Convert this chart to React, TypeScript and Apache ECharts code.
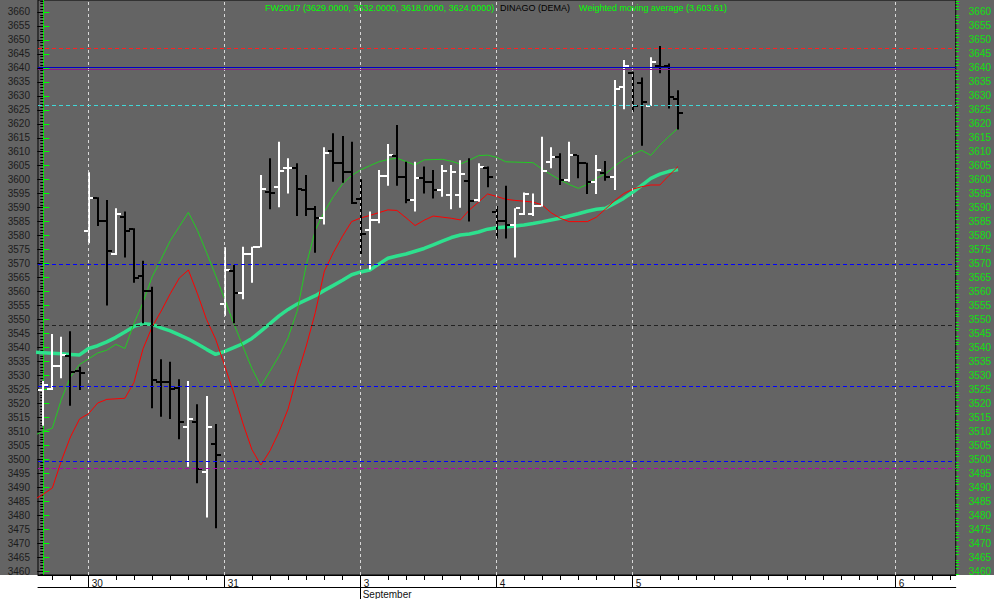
import React, { useEffect, useRef } from "react";
import * as echarts from "echarts";

// ---- OHLC bars (30-minute bars), index 0 = first visible bar ----
const opens = [3524.8, 3525.1, 3533.5, 3537.0, 3531.5, 3581.8, 3593.6, 3585.2, 3573.4, 3586.6, 3582.3, 3565.5, 3560.2, 3527.7, 3527.6, 3525.4, 3511.6, 3513.4, 3495.4, 3505.5,
  3555.4, 3567.4, 3559.6, 3573.4, 3575.8, 3595.7, 3597.5, 3604.1, 3604.3, 3596.3, 3589.4, 3586.2, 3610.4, 3605.9, 3602.9,
  3593.0, 3582.0, 3585.6, 3601.4, 3608.6, 3601.1, 3592.7, 3600.5, 3599.3, 3596.3, 3594.5, 3594.5, 3599.7, 3592.7, 3604.1,
  3588.6, 3585.3, 3583.8, 3587.7, 3587.7, 3590.6, 3606.3, 3608.0, 3600.0, 3608.8, 3605.9, 3599.3, 3602.5, 3601.1, 3633.3,
  3638.3, 3634.5, 3626.4, 3640.8, 3640.8, 3629.0];
const highs = [3528.0, 3544.8, 3543.8, 3545.8, 3533.1, 3602.7, 3593.7, 3592.7, 3589.8, 3588.6, 3582.6, 3571.0, 3561.7, 3535.8, 3534.9, 3528.6, 3528.0, 3519.7, 3522.6, 3512.6,
  3575.8, 3569.5, 3576.0, 3576.0, 3601.7, 3607.7, 3613.6, 3607.7, 3605.9, 3601.7, 3590.6, 3611.6, 3616.6, 3615.6, 3613.6,
  3600.2, 3588.6, 3603.5, 3612.8, 3619.6, 3606.4, 3606.4, 3604.7, 3603.5, 3605.3, 3605.3, 3607.0, 3607.7, 3605.9, 3604.7,
  3590.6, 3597.8, 3589.8, 3595.4, 3595.1, 3615.4, 3611.6, 3609.5, 3613.6, 3608.8, 3606.1, 3608.8, 3606.7, 3635.7, 3642.8,
  3638.6, 3636.6, 3643.8, 3647.8, 3641.6, 3632.0];
const lows = [3512.0, 3524.8, 3529.0, 3519.1, 3524.8, 3577.3, 3583.4, 3555.0, 3573.1, 3572.2, 3563.1, 3548.6, 3518.2, 3515.2, 3514.4, 3507.1, 3497.3, 3491.4, 3479.1, 3475.3,
  3551.3, 3548.6, 3557.2, 3563.1, 3575.8, 3589.4, 3590.1, 3595.1, 3587.0, 3587.0, 3573.9, 3584.0, 3599.3, 3598.9, 3591.3,
  3573.4, 3567.9, 3584.4, 3597.8, 3597.8, 3591.6, 3588.6, 3595.1, 3593.3, 3593.9, 3589.4, 3590.0, 3585.0, 3592.1, 3597.3,
  3579.0, 3579.0, 3572.2, 3587.4, 3587.0, 3590.4, 3604.1, 3598.1, 3599.3, 3600.5, 3594.9, 3594.9, 3599.6, 3596.3, 3625.2,
  3624.3, 3612.1, 3626.4, 3638.1, 3625.5, 3618.0];
const closes = [3526.4, 3533.5, 3537.3, 3531.3, 3530.8, 3593.6, 3585.2, 3574.6, 3587.7, 3581.8, 3564.7, 3560.2, 3528.3, 3527.6, 3525.1, 3513.4, 3514.4, 3496.6, 3511.6, 3501.5,
  3567.7, 3559.6, 3573.4, 3575.8, 3596.6, 3595.4, 3603.1, 3604.3, 3596.6, 3589.4, 3586.2, 3609.7, 3605.9, 3602.9, 3591.6,
  3580.5, 3585.6, 3601.4, 3608.8, 3601.1, 3592.7, 3600.5, 3599.3, 3596.3, 3603.1, 3602.9, 3602.0, 3592.5, 3604.4, 3600.9,
  3585.3, 3583.8, 3589.8, 3594.9, 3590.6, 3603.2, 3608.0, 3600.0, 3608.8, 3605.9, 3599.3, 3603.5, 3601.1, 3632.5, 3640.8,
  3626.4, 3627.7, 3642.2, 3640.3, 3629.7, 3624.0];

// ---- indicator lines, index -1 .. 70 ----
const weightedMA = [3538.3, 3538.1, 3537.9, 3537.7, 3537.5, 3537.3, 3539.6, 3540.6, 3542.0, 3543.6, 3545.5, 3547.5, 3548.5, 3548.2, 3547.0, 3545.9, 3544.5, 3543.0, 3541.2, 3539.3, 3537.5,
  3538.6, 3539.9, 3541.3, 3543.2, 3545.8, 3548.5, 3551.3, 3553.6, 3555.5, 3557.0, 3558.5, 3560.4, 3562.2, 3564.0, 3566.0,
  3567.0, 3567.7, 3569.8, 3571.9, 3572.7, 3573.4, 3574.4, 3575.4, 3576.7, 3578.0, 3579.3, 3580.2, 3580.6, 3581.3, 3582.3,
  3582.8, 3583.1, 3583.4, 3583.8, 3584.3, 3584.9, 3585.6, 3586.2, 3587.0, 3587.8, 3588.7, 3589.4, 3589.8, 3591.5, 3593.3,
  3595.5, 3598.0, 3600.5, 3602.0, 3603.0, 3603.6];
const fastAverage = [3508.5, 3510.0, 3511.1, 3521.5, 3529.4, 3533.9, 3535.9, 3538.0, 3539.0, 3541.1, 3539.6, 3548.6, 3556.1, 3565.2, 3571.6, 3578.2, 3583.2, 3588.3, 3581.9, 3574.0, 3565.8,
  3557.3, 3548.6, 3540.5, 3532.5, 3526.2, 3531.5, 3537.0, 3543.5, 3553.0, 3569.5, 3582.0, 3588.6, 3594.0, 3598.5, 3601.5,
  3603.5, 3605.0, 3606.4, 3607.2, 3607.7, 3606.5, 3605.3, 3607.1, 3607.2, 3607.3, 3606.6, 3605.6, 3607.0, 3608.6, 3608.8,
  3608.0, 3606.4, 3606.3, 3606.2, 3606.1, 3603.8, 3601.8, 3599.9, 3598.3, 3596.9, 3598.3, 3600.5, 3602.1, 3604.8, 3607.2,
  3609.0, 3610.5, 3608.7, 3612.4, 3615.5, 3618.4];
const redAverage = [3485.5, 3487.5, 3489.7, 3499.5, 3508.0, 3514.4, 3516.3, 3520.1, 3521.4, 3521.6, 3521.8, 3527.5, 3539.5, 3547.3, 3553.0, 3559.2, 3564.8, 3567.7, 3559.2, 3550.0, 3543.0,
  3533.5, 3523.7, 3513.0, 3503.5, 3497.9, 3503.0, 3509.8, 3518.0, 3530.0, 3540.5, 3552.5, 3567.3, 3574.0, 3579.8, 3585.0,
  3586.3, 3587.2, 3588.2, 3589.2, 3589.0, 3586.4, 3583.6, 3585.5, 3587.0, 3586.6, 3586.2, 3585.6, 3589.2, 3592.0, 3594.9,
  3594.0, 3593.0, 3592.6, 3592.3, 3592.0, 3591.0, 3588.2, 3586.2, 3585.0, 3585.0, 3585.0, 3586.6, 3589.5, 3592.5, 3595.0,
  3596.6, 3597.5, 3598.1, 3598.1, 3601.5, 3604.7];

// ---- horizontal levels ----
const levelValues = [3647.1, 3640.3, 3639.6, 3626.6, 3569.8, 3548.0, 3526.2, 3499.4, 3496.6];
const levelColors = ["#ff2020", "#0000c8", "#8a1a8a", "#40d8d8", "#0000ff", "#222222", "#0000ff", "#0000ff", "#b000b0"];
const levelDashed = [true, false, false, true, true, true, true, true, true];

// ---- x axis: day starts (bar positions) & labels ----
const dayPositions = [5, 20, 35, 50, 65, 94];
const dayLabels = ["30", "31", "3", "4", "5", "6"];
const hourTicks = [1, 3, 8, 10, 12, 14, 16, 18, 23, 25, 27, 29, 31, 33, 38, 40, 42, 44, 46, 48, 53, 55, 57, 59, 61, 63,
  68, 70, 72, 74, 76, 78, 80, 82, 84, 86, 88, 90, 92, 96, 98, 100];
const monthPosition = [35];
const monthLabel = "September";

// ---- y axis labels ----
const priceLabels = [3460, 3465, 3470, 3475, 3480, 3485, 3490, 3495, 3500, 3505, 3510, 3515, 3520, 3525, 3530, 3535, 3540,
  3545, 3550, 3555, 3560, 3565, 3570, 3575, 3580, 3585, 3590, 3595, 3600, 3605, 3610, 3615, 3620, 3625, 3630, 3635, 3640,
  3645, 3650, 3655, 3660];

// ---- header texts ----
const headerSymbol = "FW20U7 (3629.0000, 3632.0000, 3618.0000, 3624.0000)";
const headerStudy = "DINAGO (DEMA)";
const headerAverage = "Weighted moving average (3,603.61)";

const Y_MIN = 3458.57;
const Y_MAX = 3664.29;
const X_MIN = -0.584;
const X_MAX = 100.63;
const FONT = "Liberation Sans, Arial, sans-serif";

export default function App() {
  const ref = useRef<HTMLDivElement>(null);
  useEffect(() => {
    if (!ref.current) return;
    const chart = echarts.init(ref.current, undefined, { renderer: "svg" });

    const minorPrice: number[] = [];
    for (let v = priceLabels[0] - 1; v <= priceLabels[priceLabels.length - 1] + 4; v++) {
      if (v % 5 !== 0) minorPrice.push(v);
    }

    const barData = opens.map((o, k) => [k, o, highs[k], lows[k], closes[k]]);
    const lineData = (arr: number[]) => arr.map((v, k) => [k - 1, v]);
    const plain = (v: number) => String(Math.round(v));

    const yBase = {
      type: "value",
      min: Y_MIN,
      max: Y_MAX,
      splitLine: { show: false },
      gridIndex: 0,
    };
    const xBase = {
      type: "value",
      min: X_MIN,
      max: X_MAX,
      splitLine: { show: false },
      gridIndex: 0,
    };

    const levelLines = levelValues.map((v, k) => ({
      yAxis: v,
      lineStyle: {
        color: levelColors[k],
        type: levelDashed[k] ? [4, 3] : "solid",
        width: 1,
      },
    }));
    const dayLines = dayPositions.map((p) => ({
      xAxis: p,
      lineStyle: { color: "#d8d8d8", type: [3, 3], width: 1 },
    }));

    const option: any = {
      animation: false,
      backgroundColor: "transparent",
      grid: {
        left: 38,
        right: 38,
        top: 0,
        height: 575,
        show: true,
        backgroundColor: "#646464",
        borderColor: "#000",
        borderWidth: 1,
      },
      xAxis: [
        {
          ...xBase,
          position: "bottom",
          axisLine: { show: true, lineStyle: { color: "#000", width: 1 } },
          axisTick: { show: true, customValues: hourTicks, length: 5, lineStyle: { color: "#000" } },
          axisLabel: { show: false },
        },
        {
          ...xBase,
          position: "bottom",
          axisLine: { show: false },
          axisTick: { show: true, customValues: dayPositions, length: 12, lineStyle: { color: "#000" } },
          axisLabel: {
            show: true,
            customValues: dayPositions,
            formatter: (v: number) => dayLabels[dayPositions.indexOf(Math.round(v))] ?? "",
            align: "left",
            padding: [0, 0, 0, 3],
            margin: 3,
            color: "#111",
            fontSize: 10,
            fontFamily: FONT,
          },
        },
        {
          ...xBase,
          position: "bottom",
          offset: 12,
          axisLine: { show: true, lineStyle: { color: "#000", width: 1 } },
          axisTick: { show: true, customValues: monthPosition, length: 12, lineStyle: { color: "#000" } },
          axisLabel: {
            show: true,
            customValues: monthPosition,
            formatter: () => monthLabel,
            align: "left",
            padding: [0, 0, 0, 2],
            margin: 2,
            color: "#111",
            fontSize: 10,
            fontFamily: FONT,
          },
        },
      ],
      yAxis: [
        {
          ...yBase,
          position: "left",
          axisLine: { show: true, lineStyle: { color: "#000", width: 1 } },
          axisTick: { show: true, customValues: priceLabels, length: 6, lineStyle: { color: "#000" } },
          axisLabel: {
            show: true,
            customValues: priceLabels,
            formatter: plain,
            margin: 8,
            color: "#1c1c1c",
            fontSize: 10,
            fontFamily: FONT,
          },
        },
        {
          ...yBase,
          position: "left",
          axisLine: { show: false },
          axisTick: { show: true, customValues: minorPrice, length: 3, lineStyle: { color: "#000" } },
          axisLabel: { show: false },
        },
        {
          ...yBase,
          position: "right",
          axisLine: { show: true, lineStyle: { color: "#00ff00", width: 1 } },
          axisTick: { show: true, customValues: priceLabels, length: 6, lineStyle: { color: "#00ff00" } },
          axisLabel: {
            show: true,
            customValues: priceLabels,
            formatter: plain,
            margin: 13,
            color: "#10e010",
            fontSize: 10,
            fontFamily: FONT,
          },
        },
        {
          ...yBase,
          position: "right",
          axisLine: { show: false },
          axisTick: { show: true, customValues: minorPrice, length: 3, lineStyle: { color: "#00ff00" } },
          axisLabel: { show: false },
        },
      ],
      graphic: [
        {
          type: "text",
          x: 265,
          y: 8,
          style: {
            text: headerSymbol,
            fill: "#00ff00",
            font: `9px ${FONT}`,
            verticalAlign: "middle",
          },
        },
        {
          type: "text",
          x: 500,
          y: 8,
          style: {
            text: headerStudy,
            fill: "#000000",
            font: `9px ${FONT}`,
            verticalAlign: "middle",
          },
        },
        {
          type: "text",
          x: 727,
          y: 8,
          style: {
            text: headerAverage,
            fill: "#00ff00",
            font: `9px ${FONT}`,
            align: "right",
            verticalAlign: "middle",
          },
        },
      ],
      series: [
        {
          type: "line",
          name: "grid",
          data: [],
          silent: true,
          markLine: {
            silent: true,
            symbol: "none",
            label: { show: false },
            data: [...dayLines, ...levelLines],
          },
          z: 1,
        },
        {
          type: "line",
          name: "Weighted moving average",
          data: lineData(weightedMA),
          showSymbol: false,
          lineStyle: { color: "#2ee08e", width: 3.5 },
          clip: true,
          z: 2,
        },
        {
          type: "line",
          name: "Fast average",
          data: lineData(fastAverage),
          showSymbol: false,
          lineStyle: { color: "#22cc22", width: 1 },
          clip: true,
          z: 3,
        },
        {
          type: "line",
          name: "Red average",
          data: lineData(redAverage),
          showSymbol: false,
          lineStyle: { color: "#ff0000", width: 1 },
          clip: true,
          z: 3,
        },
        {
          type: "custom",
          name: "FW20U7",
          data: barData,
          clip: true,
          z: 4,
          encode: { x: 0, y: [1, 2, 3, 4] },
          renderItem: (_params: any, api: any) => {
            const i = api.value(0);
            const o = api.value(1);
            const h = api.value(2);
            const l = api.value(3);
            const c = api.value(4);
            const ph = api.coord([i, h]);
            const pl = api.coord([i, l]);
            const po = api.coord([i, o]);
            const pc = api.coord([i, c]);
            const color = c > o ? "#ffffff" : "#000000";
            const x = Math.round(ph[0]);
            return {
              type: "group",
              children: [
                { type: "rect", shape: { x: x - 1, y: ph[1], width: 2, height: Math.max(1, pl[1] - ph[1]) }, style: { fill: color } },
                { type: "rect", shape: { x: x - 5, y: Math.round(po[1]) - 1, width: 4, height: 2 }, style: { fill: color } },
                { type: "rect", shape: { x: x + 1, y: Math.round(pc[1]) - 1, width: 4, height: 2 }, style: { fill: color } },
              ],
            };
          },
        },
      ],
    };
    chart.setOption(option);
    return () => chart.dispose();
  }, []);

  return (
    <div
      style={{
        position: "fixed",
        left: 0,
        top: 0,
        width: 994,
        height: 599,
        background: "linear-gradient(to bottom, #646464 0px, #646464 575px, #ffffff 575px, #ffffff 599px)",
      }}
    >
      <div ref={ref} style={{ width: 994, height: 599 }} />
    </div>
  );
}
